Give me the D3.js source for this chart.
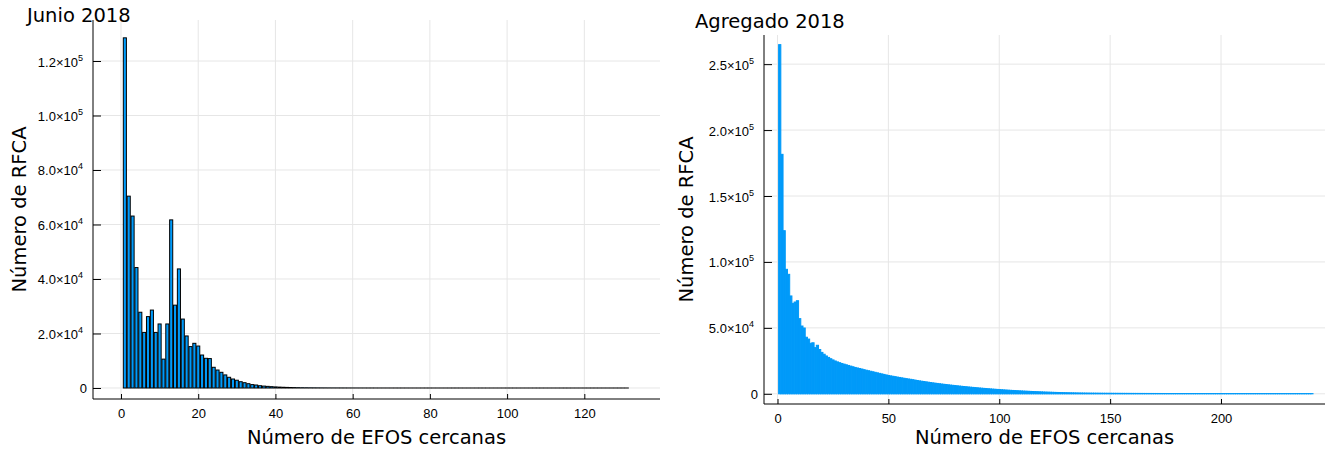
<!DOCTYPE html>
<html>
<head>
<meta charset="utf-8">
<script src="https://cdn.jsdelivr.net/npm/d3@7"></script>
<style>
  html, body { margin: 0; padding: 0; background: #fff; }
  svg { display: block; }
  .title, .axis-label { font-family: "DejaVu Sans", sans-serif; fill: #000; }
  .tick-label { font-family: "Liberation Sans", Arial, sans-serif; fill: #000; }
</style>
</head>
<body>
<svg id="chart" width="1325" height="449"></svg>
<script>
// Junio 2018: number of RFCA by number of nearby EFOS (1..131)
const junioCounts = [
  128500, 70400, 63100, 44200, 27800, 20400, 26200, 28600, 20400, 23500,
  10600, 23500, 61700, 30400, 43700, 25300, 19100, 15200, 16400, 15400,
  12100, 10900, 10800, 7600, 6600, 5760, 4800, 3930, 3300, 2850,
  2310, 1950, 1580, 1250, 1100, 840, 700, 600, 490, 400,
  330, 270, 220, 180, 150, 120, 100, 85, 70, 60,
  52, 45, 40, 35, 30, 27, 24, 21, 19, 17,
  15, 14, 12, 11, 10, 9, 8, 8, 7, 6,
  6, 5, 5, 5, 4, 4, 4, 3, 3, 3,
  3, 3, 2, 2, 2, 2, 2, 2, 1, 2,
  1, 1, 2, 1, 1, 1, 1, 1, 1, 1,
  1, 1, 1, 1, 1, 1, 1, 1, 1, 1,
  1, 1, 1, 1, 1, 1, 1, 1, 1, 1,
  1, 1, 1, 1, 1, 1, 1, 1, 1, 1,
  1
];

// Agregado 2018: number of RFCA by number of nearby EFOS (1..241)
const agregadoCounts = [
  264800, 181600, 123700, 94400, 90600, 74200, 68600, 69600, 70600, 57000,
  51400, 49900, 42900, 41500, 38300, 38700, 35000, 36800, 33600, 31400,
  30000, 28700, 27600, 26600, 25700, 24900, 24200, 23600, 23000, 22500,
  22000, 21500, 21000, 20500, 20000, 19600, 19200, 18800, 18300, 17900,
  17500, 17100, 16700, 16300, 15900, 15500, 15100, 14700, 14300, 13900,
  13600, 13300, 13000, 12700, 12400, 12100, 11800, 11500, 11250, 11000,
  10700, 10400, 10100, 9800, 9550, 9300, 9050, 8800, 8550, 8300,
  8080, 7860, 7640, 7430, 7220, 7020, 6820, 6620, 6430, 6240,
  6060, 5880, 5700, 5530, 5360, 5190, 5030, 4870, 4710, 4560,
  4410, 4260, 4120, 3980, 3840, 3710, 3580, 3450, 3330, 3210,
  3090, 2970, 2860, 2750, 2640, 2540, 2440, 2340, 2250, 2160,
  2070, 1980, 1900, 1820, 1740, 1660, 1590, 1520, 1450, 1380,
  1310, 1250, 1190, 1130, 1070, 1020, 970, 920, 870, 830,
  790, 750, 715, 680, 650, 620, 595, 570, 545, 525,
  505, 485, 470, 455, 440, 425, 410, 400, 390, 380,
  370, 360, 352, 344, 336, 328, 320, 313, 306, 300,
  294, 288, 282, 277, 272, 267, 262, 258, 254, 250,
  246, 242, 238, 235, 232, 229, 226, 223, 220, 218,
  216, 214, 212, 210, 208, 206, 204, 202, 200, 199,
  198, 197, 196, 195, 194, 193, 192, 191, 190, 189,
  188, 187, 186, 186, 185, 184, 183, 183, 182, 181,
  181, 180, 179, 179, 178, 178, 177, 176, 176, 175,
  175, 174, 174, 173, 173, 172, 172, 171, 171, 170,
  170, 170, 169, 169, 168, 168, 168, 167, 167, 167,
  166
];

// Tick values and labels
const junioXTicks = [0, 20, 40, 60, 80, 100, 120];
const junioYTicks = [0, 20000, 40000, 60000, 80000, 100000, 120000];
const junioYLabels = [["0", null], ["2.0×10", "4"], ["4.0×10", "4"], ["6.0×10", "4"], ["8.0×10", "4"], ["1.0×10", "5"], ["1.2×10", "5"]];

const agregadoXTicks = [0, 50, 100, 150, 200];
const agregadoYTicks = [0, 50000, 100000, 150000, 200000, 250000];
const agregadoYLabels = [["0", null], ["5.0×10", "4"], ["1.0×10", "5"], ["1.5×10", "5"], ["2.0×10", "5"], ["2.5×10", "5"]];

const titles = ["Junio 2018", "Agregado 2018"];
const xTitle = "Número de EFOS cercanas";
const yTitle = "Número de RFCA";

const BLUE = "#009af9";
const GRID = "#e6e6e6";

const svg = d3.select("#chart");

function drawPanel(cfg) {
  const { box, xDomain, yDomain, counts, xTicks, yTicks, yLabels, title, barWidth, outlined, titlePos, yTitleX } = cfg;
  const x = d3.scaleLinear().domain(xDomain).range([box.x0, box.x1]);
  const y = d3.scaleLinear().domain(yDomain).range([box.y1, box.y0]);
  const g = svg.append("g");

  // grid
  g.append("g").selectAll("line").data(xTicks).join("line")
    .attr("x1", d => x(d)).attr("x2", d => x(d))
    .attr("y1", box.y0).attr("y2", box.y1)
    .attr("stroke", GRID).attr("stroke-width", 1);
  g.append("g").selectAll("line").data(yTicks).join("line")
    .attr("x1", box.x0).attr("x2", box.x1)
    .attr("y1", d => y(d)).attr("y2", d => y(d))
    .attr("stroke", GRID).attr("stroke-width", 1);

  // bars
  const data = counts.map((v, i) => ({ k: i + 1, v }));
  const bars = g.append("g").selectAll("rect").data(data).join("rect")
    .attr("x", d => x(d.k - barWidth / 2))
    .attr("width", d => x(d.k + barWidth / 2) - x(d.k - barWidth / 2))
    .attr("y", d => y(d.v))
    .attr("height", d => y(0) - y(d.v))
    .attr("fill", BLUE);
  if (outlined) {
    bars.attr("stroke", "#000").attr("stroke-width", 1);
  } else {
    // adjacent histogram bins: a same-colour edge closes the seams
    bars.attr("stroke", BLUE).attr("stroke-width", 1);
  }

  // axes
  const xAxis = d3.axisBottom(x).tickValues(xTicks).tickSize(-5).tickPadding(10).tickFormat(d3.format("d"));
  const gx = g.append("g").attr("transform", `translate(0,${box.y1})`).call(xAxis);
  gx.select(".domain").attr("d", `M${box.x0},0H${box.x1}`).attr("stroke", "#000");
  gx.selectAll(".tick line").attr("stroke", "#000");
  gx.selectAll(".tick text").attr("class", "tick-label").attr("font-size", 13).attr("dy", "0.71em");

  const yAxis = d3.axisLeft(y).tickValues(yTicks).tickSize(-8).tickPadding(14).tickFormat(() => "");
  const gy = g.append("g").attr("transform", `translate(${box.x0},0)`).call(yAxis);
  gy.select(".domain").attr("d", `M0,${box.y0}V${box.y1}`).attr("stroke", "#000");
  gy.selectAll(".tick line").attr("stroke", "#000");
  gy.selectAll(".tick text").remove();
  gy.selectAll(".tick").each(function (d, i) {
    const [base, exp] = yLabels[i];
    const t = d3.select(this).append("text")
      .attr("class", "tick-label")
      .attr("x", exp ? -10 : -6).attr("y", 5)
      .attr("text-anchor", "end")
      .attr("font-size", 13);
    t.append("tspan").text(base);
    if (exp) t.append("tspan").attr("dy", -6).attr("font-size", 9).text(exp);
  });

  // titles
  svg.append("text").attr("class", "title").attr("x", titlePos[0]).attr("y", titlePos[1])
    .attr("font-size", 19.5).text(title);
  svg.append("text").attr("class", "axis-label")
    .attr("x", (box.x0 + box.x1) / 2).attr("y", 444)
    .attr("text-anchor", "middle").attr("font-size", 19.5).text(xTitle);
  svg.append("text").attr("class", "axis-label")
    .attr("transform", `translate(${yTitleX},${(box.y0 + box.y1) / 2}) rotate(-90)`)
    .attr("text-anchor", "middle").attr("font-size", 19.5).text(yTitle);
}

drawPanel({
  box: { x0: 93, x1: 660, y0: 20, y1: 399 },
  xDomain: [-7.25, 139.6],
  yDomain: [-4037, 135046],
  counts: junioCounts,
  xTicks: junioXTicks, yTicks: junioYTicks, yLabels: junioYLabels,
  title: titles[0], barWidth: 0.8, outlined: true,
  titlePos: [27, 22], yTitleX: 26
});

drawPanel({
  box: { x0: 764, x1: 1325, y0: 35, y1: 404 },
  xDomain: [-6.09, 246.9],
  yDomain: [-7736, 272100],
  counts: agregadoCounts,
  xTicks: agregadoXTicks, yTicks: agregadoYTicks, yLabels: agregadoYLabels,
  title: titles[1], barWidth: 1.0, outlined: false,
  titlePos: [695, 28], yTitleX: 693
});
</script>
</body>
</html>
